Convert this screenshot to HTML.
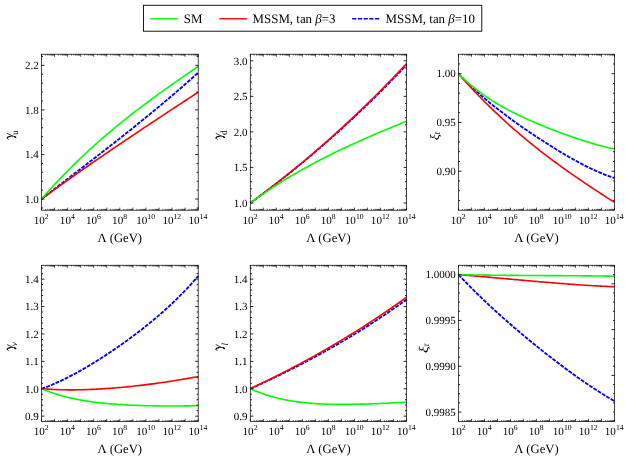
<!DOCTYPE html>
<html><head><meta charset="utf-8"><title>RG running</title>
<style>
html,body{margin:0;padding:0;background:#fff;}
svg{display:block;font-family:"Liberation Serif", serif;}
text{fill:#000;text-rendering:geometricPrecision;}
</style></head>
<body>
<div style="will-change:transform;width:625px;height:459px;overflow:hidden">
<svg width="625" height="459" viewBox="0 0 625 459">
<rect width="625" height="459" fill="#fff"/>
<g transform="translate(0,0)"><polyline points="41.50,199.06 43.48,197.52 45.47,195.98 47.45,194.44 49.43,192.91 51.42,191.37 53.40,189.84 55.38,188.31 57.37,186.78 59.35,185.25 61.34,183.72 63.32,182.19 65.30,180.66 67.29,179.13 69.27,177.60 71.25,176.08 73.24,174.55 75.22,173.02 77.20,171.50 79.19,169.97 81.17,168.44 83.15,166.91 85.14,165.38 87.12,163.85 89.11,162.32 91.09,160.78 93.07,159.25 95.06,157.71 97.04,156.17 99.02,154.64 101.01,153.09 102.99,151.55 104.97,150.01 106.96,148.46 108.94,146.91 110.92,145.36 112.91,143.80 114.89,142.24 116.87,140.68 118.86,139.12 120.84,137.55 122.83,135.98 124.81,134.41 126.79,132.83 128.78,131.25 130.76,129.67 132.74,128.08 134.73,126.49 136.71,124.89 138.69,123.29 140.68,121.68 142.66,120.07 144.64,118.46 146.63,116.84 148.61,115.22 150.59,113.59 152.58,111.95 154.56,110.31 156.55,108.67 158.53,107.01 160.51,105.36 162.50,103.69 164.48,102.02 166.46,100.35 168.45,98.67 170.43,96.98 172.41,95.28 174.40,93.58 176.38,91.88 178.36,90.16 180.35,88.44 182.33,86.71 184.32,84.97 186.30,83.23 188.28,81.48 190.27,79.72 192.25,77.95 194.23,76.17 196.22,74.39 198.20,72.60" fill="none" stroke="#0000ff" stroke-width="1.85" stroke-dasharray="3.85 1.2"/>
<polyline points="41.50,199.06 43.48,197.61 45.47,196.16 47.45,194.71 49.43,193.27 51.42,191.83 53.40,190.40 55.38,188.97 57.37,187.54 59.35,186.11 61.34,184.69 63.32,183.27 65.30,181.86 67.29,180.45 69.27,179.04 71.25,177.64 73.24,176.23 75.22,174.83 77.20,173.44 79.19,172.05 81.17,170.66 83.15,169.27 85.14,167.88 87.12,166.50 89.11,165.12 91.09,163.75 93.07,162.37 95.06,161.00 97.04,159.63 99.02,158.27 101.01,156.90 102.99,155.54 104.97,154.18 106.96,152.83 108.94,151.47 110.92,150.12 112.91,148.77 114.89,147.42 116.87,146.08 118.86,144.73 120.84,143.39 122.83,142.05 124.81,140.72 126.79,139.38 128.78,138.05 130.76,136.72 132.74,135.39 134.73,134.06 136.71,132.73 138.69,131.41 140.68,130.08 142.66,128.76 144.64,127.44 146.63,126.12 148.61,124.80 150.59,123.49 152.58,122.17 154.56,120.86 156.55,119.55 158.53,118.24 160.51,116.93 162.50,115.62 164.48,114.31 166.46,113.00 168.45,111.70 170.43,110.39 172.41,109.09 174.40,107.79 176.38,106.48 178.36,105.18 180.35,103.88 182.33,102.58 184.32,101.28 186.30,99.98 188.28,98.68 190.27,97.39 192.25,96.09 194.23,94.79 196.22,93.50 198.20,92.20" fill="none" stroke="#ff0000" stroke-width="1.6"/>
<polyline points="41.50,199.06 43.48,196.79 45.47,194.55 47.45,192.33 49.43,190.12 51.42,187.94 53.40,185.78 55.38,183.64 57.37,181.53 59.35,179.43 61.34,177.35 63.32,175.29 65.30,173.25 67.29,171.23 69.27,169.22 71.25,167.24 73.24,165.27 75.22,163.33 77.20,161.39 79.19,159.48 81.17,157.59 83.15,155.71 85.14,153.84 87.12,152.00 89.11,150.17 91.09,148.35 93.07,146.55 95.06,144.77 97.04,143.00 99.02,141.25 101.01,139.51 102.99,137.78 104.97,136.07 106.96,134.37 108.94,132.69 110.92,131.02 112.91,129.36 114.89,127.71 116.87,126.08 118.86,124.46 120.84,122.85 122.83,121.25 124.81,119.66 126.79,118.08 128.78,116.52 130.76,114.96 132.74,113.42 134.73,111.88 136.71,110.36 138.69,108.84 140.68,107.33 142.66,105.84 144.64,104.35 146.63,102.87 148.61,101.39 150.59,99.93 152.58,98.47 154.56,97.02 156.55,95.58 158.53,94.14 160.51,92.71 162.50,91.28 164.48,89.87 166.46,88.45 168.45,87.05 170.43,85.64 172.41,84.25 174.40,82.85 176.38,81.46 178.36,80.08 180.35,78.70 182.33,77.32 184.32,75.95 186.30,74.58 188.28,73.21 190.27,71.84 192.25,70.48 194.23,69.12 196.22,67.76 198.20,66.40" fill="none" stroke="#00ff00" stroke-width="1.6"/>
<rect x="41.5" y="54.2" width="156.70" height="156.00" fill="none" stroke="#000" stroke-width="0.72"/>
<path d="M41.50 210.2 v-2.6 M41.50 54.2 v2.6 M45.43 210.2 v-1.3 M45.43 54.2 v1.3 M47.73 210.2 v-1.3 M47.73 54.2 v1.3 M49.36 210.2 v-1.3 M49.36 54.2 v1.3 M50.63 210.2 v-1.3 M50.63 54.2 v1.3 M51.66 210.2 v-1.3 M51.66 54.2 v1.3 M52.54 210.2 v-1.3 M52.54 54.2 v1.3 M53.29 210.2 v-1.3 M53.29 54.2 v1.3 M53.96 210.2 v-1.3 M53.96 54.2 v1.3 M54.56 210.2 v-2.6 M54.56 54.2 v2.6 M58.49 210.2 v-1.3 M58.49 54.2 v1.3 M60.79 210.2 v-1.3 M60.79 54.2 v1.3 M62.42 210.2 v-1.3 M62.42 54.2 v1.3 M63.69 210.2 v-1.3 M63.69 54.2 v1.3 M64.72 210.2 v-1.3 M64.72 54.2 v1.3 M65.59 210.2 v-1.3 M65.59 54.2 v1.3 M66.35 210.2 v-1.3 M66.35 54.2 v1.3 M67.02 210.2 v-1.3 M67.02 54.2 v1.3 M67.62 210.2 v-2.6 M67.62 54.2 v2.6 M71.55 210.2 v-1.3 M71.55 54.2 v1.3 M73.85 210.2 v-1.3 M73.85 54.2 v1.3 M75.48 210.2 v-1.3 M75.48 54.2 v1.3 M76.74 210.2 v-1.3 M76.74 54.2 v1.3 M77.78 210.2 v-1.3 M77.78 54.2 v1.3 M78.65 210.2 v-1.3 M78.65 54.2 v1.3 M79.41 210.2 v-1.3 M79.41 54.2 v1.3 M80.08 210.2 v-1.3 M80.08 54.2 v1.3 M80.67 210.2 v-2.6 M80.67 54.2 v2.6 M84.61 210.2 v-1.3 M84.61 54.2 v1.3 M86.91 210.2 v-1.3 M86.91 54.2 v1.3 M88.54 210.2 v-1.3 M88.54 54.2 v1.3 M89.80 210.2 v-1.3 M89.80 54.2 v1.3 M90.84 210.2 v-1.3 M90.84 54.2 v1.3 M91.71 210.2 v-1.3 M91.71 54.2 v1.3 M92.47 210.2 v-1.3 M92.47 54.2 v1.3 M93.14 210.2 v-1.3 M93.14 54.2 v1.3 M93.73 210.2 v-2.6 M93.73 54.2 v2.6 M97.66 210.2 v-1.3 M97.66 54.2 v1.3 M99.96 210.2 v-1.3 M99.96 54.2 v1.3 M101.60 210.2 v-1.3 M101.60 54.2 v1.3 M102.86 210.2 v-1.3 M102.86 54.2 v1.3 M103.89 210.2 v-1.3 M103.89 54.2 v1.3 M104.77 210.2 v-1.3 M104.77 54.2 v1.3 M105.53 210.2 v-1.3 M105.53 54.2 v1.3 M106.19 210.2 v-1.3 M106.19 54.2 v1.3 M106.79 210.2 v-2.6 M106.79 54.2 v2.6 M110.72 210.2 v-1.3 M110.72 54.2 v1.3 M113.02 210.2 v-1.3 M113.02 54.2 v1.3 M114.65 210.2 v-1.3 M114.65 54.2 v1.3 M115.92 210.2 v-1.3 M115.92 54.2 v1.3 M116.95 210.2 v-1.3 M116.95 54.2 v1.3 M117.83 210.2 v-1.3 M117.83 54.2 v1.3 M118.58 210.2 v-1.3 M118.58 54.2 v1.3 M119.25 210.2 v-1.3 M119.25 54.2 v1.3 M119.85 210.2 v-2.6 M119.85 54.2 v2.6 M123.78 210.2 v-1.3 M123.78 54.2 v1.3 M126.08 210.2 v-1.3 M126.08 54.2 v1.3 M127.71 210.2 v-1.3 M127.71 54.2 v1.3 M128.98 210.2 v-1.3 M128.98 54.2 v1.3 M130.01 210.2 v-1.3 M130.01 54.2 v1.3 M130.89 210.2 v-1.3 M130.89 54.2 v1.3 M131.64 210.2 v-1.3 M131.64 54.2 v1.3 M132.31 210.2 v-1.3 M132.31 54.2 v1.3 M132.91 210.2 v-2.6 M132.91 54.2 v2.6 M136.84 210.2 v-1.3 M136.84 54.2 v1.3 M139.14 210.2 v-1.3 M139.14 54.2 v1.3 M140.77 210.2 v-1.3 M140.77 54.2 v1.3 M142.04 210.2 v-1.3 M142.04 54.2 v1.3 M143.07 210.2 v-1.3 M143.07 54.2 v1.3 M143.94 210.2 v-1.3 M143.94 54.2 v1.3 M144.70 210.2 v-1.3 M144.70 54.2 v1.3 M145.37 210.2 v-1.3 M145.37 54.2 v1.3 M145.97 210.2 v-2.6 M145.97 54.2 v2.6 M149.90 210.2 v-1.3 M149.90 54.2 v1.3 M152.20 210.2 v-1.3 M152.20 54.2 v1.3 M153.83 210.2 v-1.3 M153.83 54.2 v1.3 M155.09 210.2 v-1.3 M155.09 54.2 v1.3 M156.13 210.2 v-1.3 M156.13 54.2 v1.3 M157.00 210.2 v-1.3 M157.00 54.2 v1.3 M157.76 210.2 v-1.3 M157.76 54.2 v1.3 M158.43 210.2 v-1.3 M158.43 54.2 v1.3 M159.02 210.2 v-2.6 M159.02 54.2 v2.6 M162.96 210.2 v-1.3 M162.96 54.2 v1.3 M165.26 210.2 v-1.3 M165.26 54.2 v1.3 M166.89 210.2 v-1.3 M166.89 54.2 v1.3 M168.15 210.2 v-1.3 M168.15 54.2 v1.3 M169.19 210.2 v-1.3 M169.19 54.2 v1.3 M170.06 210.2 v-1.3 M170.06 54.2 v1.3 M170.82 210.2 v-1.3 M170.82 54.2 v1.3 M171.49 210.2 v-1.3 M171.49 54.2 v1.3 M172.08 210.2 v-2.6 M172.08 54.2 v2.6 M176.01 210.2 v-1.3 M176.01 54.2 v1.3 M178.31 210.2 v-1.3 M178.31 54.2 v1.3 M179.95 210.2 v-1.3 M179.95 54.2 v1.3 M181.21 210.2 v-1.3 M181.21 54.2 v1.3 M182.24 210.2 v-1.3 M182.24 54.2 v1.3 M183.12 210.2 v-1.3 M183.12 54.2 v1.3 M183.88 210.2 v-1.3 M183.88 54.2 v1.3 M184.54 210.2 v-1.3 M184.54 54.2 v1.3 M185.14 210.2 v-2.6 M185.14 54.2 v2.6 M189.07 210.2 v-1.3 M189.07 54.2 v1.3 M191.37 210.2 v-1.3 M191.37 54.2 v1.3 M193.00 210.2 v-1.3 M193.00 54.2 v1.3 M194.27 210.2 v-1.3 M194.27 54.2 v1.3 M195.30 210.2 v-1.3 M195.30 54.2 v1.3 M196.18 210.2 v-1.3 M196.18 54.2 v1.3 M196.93 210.2 v-1.3 M196.93 54.2 v1.3 M197.60 210.2 v-1.3 M197.60 54.2 v1.3 M198.20 210.2 v-2.6 M198.20 54.2 v2.6" stroke="#000" stroke-width="0.65" fill="none"/>
<path d="M41.5 56.43 h1.6 M41.5 65.34 h3 M41.5 74.25 h1.6 M41.5 83.17 h1.6 M41.5 92.08 h1.6 M41.5 101.00 h1.6 M41.5 109.91 h3 M41.5 118.82 h1.6 M41.5 127.74 h1.6 M41.5 136.65 h1.6 M41.5 145.57 h1.6 M41.5 154.48 h3 M41.5 163.39 h1.6 M41.5 172.31 h1.6 M41.5 181.22 h1.6 M41.5 190.14 h1.6 M41.5 199.05 h3 M41.5 207.96 h1.6 M198.2 56.43 h-1.6 M198.2 65.34 h-3 M198.2 74.25 h-1.6 M198.2 83.17 h-1.6 M198.2 92.08 h-1.6 M198.2 101.00 h-1.6 M198.2 109.91 h-3 M198.2 118.82 h-1.6 M198.2 127.74 h-1.6 M198.2 136.65 h-1.6 M198.2 145.57 h-1.6 M198.2 154.48 h-3 M198.2 163.39 h-1.6 M198.2 172.31 h-1.6 M198.2 181.22 h-1.6 M198.2 190.14 h-1.6 M198.2 199.05 h-3 M198.2 207.96 h-1.6" stroke="#000" stroke-width="0.85" fill="none"/>
<text x="38.70" y="69.09" text-anchor="end" font-size="11.0">2.2</text>
<text x="38.70" y="113.66" text-anchor="end" font-size="11.0">1.8</text>
<text x="38.70" y="158.24" text-anchor="end" font-size="11.0">1.4</text>
<text x="38.70" y="202.81" text-anchor="end" font-size="11.0">1.0</text>
<text x="41.20" y="223.80" text-anchor="middle" font-size="11.1">10<tspan font-size="7.7" dy="-4.7">2</tspan></text>
<text x="67.32" y="223.80" text-anchor="middle" font-size="11.1">10<tspan font-size="7.7" dy="-4.7">4</tspan></text>
<text x="93.43" y="223.80" text-anchor="middle" font-size="11.1">10<tspan font-size="7.7" dy="-4.7">6</tspan></text>
<text x="119.55" y="223.80" text-anchor="middle" font-size="11.1">10<tspan font-size="7.7" dy="-4.7">8</tspan></text>
<text x="145.67" y="223.80" text-anchor="middle" font-size="11.1">10<tspan font-size="7.7" dy="-4.7">10</tspan></text>
<text x="171.78" y="223.80" text-anchor="middle" font-size="11.1">10<tspan font-size="7.7" dy="-4.7">12</tspan></text>
<text x="197.90" y="223.80" text-anchor="middle" font-size="11.1">10<tspan font-size="7.7" dy="-4.7">14</tspan></text>
<text x="119.85" y="241.80" text-anchor="middle" font-size="12.7">Λ (GeV)</text>
<g transform="translate(13.06,139.8) rotate(-90)"><g fill="none" stroke="#000" stroke-linecap="round"><path d="M0.3,-4.3 C0.5,-5.2 1.0,-5.9 1.7,-5.9" stroke-width="0.55"/><path d="M1.7,-5.85 C2.6,-5.8 3.15,-4.6 3.4,-3.0" stroke-width="1.1"/><path d="M3.4,-3.0 C3.6,-2 3.75,-1.2 3.75,-0.6 C3.6,0.6 3.3,1.4 2.9,2.0" stroke-width="0.8"/><path d="M3.15,1.5 L2.4,2.7" stroke-width="1.3"/><path d="M6.3,-5.6 C5.6,-4 4.6,-2 3.75,-0.6" stroke-width="0.75"/></g><text x="4.7" y="5.0" font-size="9.3">u</text></g></g>
<g transform="translate(0,0)"><polyline points="250.30,203.00 252.28,201.57 254.26,200.13 256.24,198.68 258.21,197.23 260.19,195.77 262.17,194.30 264.15,192.82 266.13,191.33 268.11,189.84 270.08,188.34 272.06,186.83 274.04,185.31 276.02,183.79 278.00,182.26 279.98,180.72 281.96,179.17 283.93,177.61 285.91,176.05 287.89,174.48 289.87,172.90 291.85,171.31 293.83,169.72 295.81,168.11 297.78,166.50 299.76,164.88 301.74,163.25 303.72,161.61 305.70,159.97 307.68,158.32 309.65,156.66 311.63,154.99 313.61,153.31 315.59,151.62 317.57,149.93 319.55,148.23 321.53,146.52 323.50,144.80 325.48,143.07 327.46,141.34 329.44,139.59 331.42,137.84 333.40,136.08 335.37,134.31 337.35,132.53 339.33,130.74 341.31,128.95 343.29,127.15 345.27,125.33 347.25,123.51 349.22,121.68 351.20,119.85 353.18,118.00 355.16,116.14 357.14,114.28 359.12,112.41 361.09,110.53 363.07,108.64 365.05,106.74 367.03,104.83 369.01,102.91 370.99,100.99 372.97,99.05 374.94,97.11 376.92,95.16 378.90,93.20 380.88,91.23 382.86,89.25 384.84,87.26 386.82,85.27 388.79,83.26 390.77,81.24 392.75,79.22 394.73,77.19 396.71,75.15 398.69,73.09 400.66,71.03 402.64,68.97 404.62,66.89 406.60,64.80" fill="none" stroke="#0000ff" stroke-width="1.85" stroke-dasharray="3.85 1.2"/>
<polyline points="250.30,203.00 252.28,201.55 254.26,200.09 256.24,198.63 258.21,197.16 260.19,195.68 262.17,194.19 264.15,192.70 266.13,191.20 268.11,189.69 270.08,188.18 272.06,186.65 274.04,185.12 276.02,183.59 278.00,182.04 279.98,180.49 281.96,178.93 283.93,177.36 285.91,175.78 287.89,174.20 289.87,172.60 291.85,171.00 293.83,169.40 295.81,167.78 297.78,166.16 299.76,164.53 301.74,162.89 303.72,161.24 305.70,159.58 307.68,157.92 309.65,156.25 311.63,154.57 313.61,152.88 315.59,151.18 317.57,149.47 319.55,147.76 321.53,146.04 323.50,144.31 325.48,142.57 327.46,140.82 329.44,139.07 331.42,137.30 333.40,135.53 335.37,133.75 337.35,131.96 339.33,130.16 341.31,128.35 343.29,126.54 345.27,124.71 347.25,122.88 349.22,121.04 351.20,119.18 353.18,117.32 355.16,115.45 357.14,113.58 359.12,111.69 361.09,109.79 363.07,107.89 365.05,105.97 367.03,104.05 369.01,102.12 370.99,100.17 372.97,98.22 374.94,96.26 376.92,94.29 378.90,92.31 380.88,90.32 382.86,88.32 384.84,86.32 386.82,84.30 388.79,82.27 390.77,80.24 392.75,78.19 394.73,76.14 396.71,74.07 398.69,72.00 400.66,69.91 402.64,67.82 404.62,65.71 406.60,63.60" fill="none" stroke="#ff0000" stroke-width="1.6"/>
<polyline points="250.30,203.00 252.28,201.56 254.26,200.13 256.24,198.72 258.21,197.32 260.19,195.94 262.17,194.57 264.15,193.22 266.13,191.87 268.11,190.55 270.08,189.23 272.06,187.93 274.04,186.65 276.02,185.37 278.00,184.11 279.98,182.86 281.96,181.62 283.93,180.40 285.91,179.19 287.89,177.99 289.87,176.80 291.85,175.62 293.83,174.45 295.81,173.30 297.78,172.15 299.76,171.02 301.74,169.90 303.72,168.79 305.70,167.69 307.68,166.59 309.65,165.51 311.63,164.44 313.61,163.38 315.59,162.33 317.57,161.28 319.55,160.25 321.53,159.23 323.50,158.21 325.48,157.20 327.46,156.20 329.44,155.21 331.42,154.23 333.40,153.26 335.37,152.29 337.35,151.33 339.33,150.38 341.31,149.43 343.29,148.50 345.27,147.56 347.25,146.64 349.22,145.72 351.20,144.81 353.18,143.91 355.16,143.01 357.14,142.12 359.12,141.23 361.09,140.35 363.07,139.47 365.05,138.60 367.03,137.73 369.01,136.87 370.99,136.01 372.97,135.16 374.94,134.31 376.92,133.47 378.90,132.63 380.88,131.80 382.86,130.96 384.84,130.13 386.82,129.31 388.79,128.49 390.77,127.67 392.75,126.85 394.73,126.04 396.71,125.22 398.69,124.41 400.66,123.61 402.64,122.80 404.62,122.00 406.60,121.20" fill="none" stroke="#00ff00" stroke-width="1.6"/>
<rect x="250.3" y="54.2" width="156.30" height="156.00" fill="none" stroke="#000" stroke-width="0.72"/>
<path d="M250.30 210.2 v-2.6 M250.30 54.2 v2.6 M254.22 210.2 v-1.3 M254.22 54.2 v1.3 M256.51 210.2 v-1.3 M256.51 54.2 v1.3 M258.14 210.2 v-1.3 M258.14 54.2 v1.3 M259.40 210.2 v-1.3 M259.40 54.2 v1.3 M260.44 210.2 v-1.3 M260.44 54.2 v1.3 M261.31 210.2 v-1.3 M261.31 54.2 v1.3 M262.06 210.2 v-1.3 M262.06 54.2 v1.3 M262.73 210.2 v-1.3 M262.73 54.2 v1.3 M263.32 210.2 v-2.6 M263.32 54.2 v2.6 M267.25 210.2 v-1.3 M267.25 54.2 v1.3 M269.54 210.2 v-1.3 M269.54 54.2 v1.3 M271.17 210.2 v-1.3 M271.17 54.2 v1.3 M272.43 210.2 v-1.3 M272.43 54.2 v1.3 M273.46 210.2 v-1.3 M273.46 54.2 v1.3 M274.33 210.2 v-1.3 M274.33 54.2 v1.3 M275.09 210.2 v-1.3 M275.09 54.2 v1.3 M275.75 210.2 v-1.3 M275.75 54.2 v1.3 M276.35 210.2 v-2.6 M276.35 54.2 v2.6 M280.27 210.2 v-1.3 M280.27 54.2 v1.3 M282.56 210.2 v-1.3 M282.56 54.2 v1.3 M284.19 210.2 v-1.3 M284.19 54.2 v1.3 M285.45 210.2 v-1.3 M285.45 54.2 v1.3 M286.49 210.2 v-1.3 M286.49 54.2 v1.3 M287.36 210.2 v-1.3 M287.36 54.2 v1.3 M288.11 210.2 v-1.3 M288.11 54.2 v1.3 M288.78 210.2 v-1.3 M288.78 54.2 v1.3 M289.38 210.2 v-2.6 M289.38 54.2 v2.6 M293.30 210.2 v-1.3 M293.30 54.2 v1.3 M295.59 210.2 v-1.3 M295.59 54.2 v1.3 M297.22 210.2 v-1.3 M297.22 54.2 v1.3 M298.48 210.2 v-1.3 M298.48 54.2 v1.3 M299.51 210.2 v-1.3 M299.51 54.2 v1.3 M300.38 210.2 v-1.3 M300.38 54.2 v1.3 M301.14 210.2 v-1.3 M301.14 54.2 v1.3 M301.80 210.2 v-1.3 M301.80 54.2 v1.3 M302.40 210.2 v-2.6 M302.40 54.2 v2.6 M306.32 210.2 v-1.3 M306.32 54.2 v1.3 M308.61 210.2 v-1.3 M308.61 54.2 v1.3 M310.24 210.2 v-1.3 M310.24 54.2 v1.3 M311.50 210.2 v-1.3 M311.50 54.2 v1.3 M312.54 210.2 v-1.3 M312.54 54.2 v1.3 M313.41 210.2 v-1.3 M313.41 54.2 v1.3 M314.16 210.2 v-1.3 M314.16 54.2 v1.3 M314.83 210.2 v-1.3 M314.83 54.2 v1.3 M315.43 210.2 v-2.6 M315.43 54.2 v2.6 M319.35 210.2 v-1.3 M319.35 54.2 v1.3 M321.64 210.2 v-1.3 M321.64 54.2 v1.3 M323.27 210.2 v-1.3 M323.27 54.2 v1.3 M324.53 210.2 v-1.3 M324.53 54.2 v1.3 M325.56 210.2 v-1.3 M325.56 54.2 v1.3 M326.43 210.2 v-1.3 M326.43 54.2 v1.3 M327.19 210.2 v-1.3 M327.19 54.2 v1.3 M327.85 210.2 v-1.3 M327.85 54.2 v1.3 M328.45 210.2 v-2.6 M328.45 54.2 v2.6 M332.37 210.2 v-1.3 M332.37 54.2 v1.3 M334.66 210.2 v-1.3 M334.66 54.2 v1.3 M336.29 210.2 v-1.3 M336.29 54.2 v1.3 M337.55 210.2 v-1.3 M337.55 54.2 v1.3 M338.59 210.2 v-1.3 M338.59 54.2 v1.3 M339.46 210.2 v-1.3 M339.46 54.2 v1.3 M340.21 210.2 v-1.3 M340.21 54.2 v1.3 M340.88 210.2 v-1.3 M340.88 54.2 v1.3 M341.48 210.2 v-2.6 M341.48 54.2 v2.6 M345.40 210.2 v-1.3 M345.40 54.2 v1.3 M347.69 210.2 v-1.3 M347.69 54.2 v1.3 M349.32 210.2 v-1.3 M349.32 54.2 v1.3 M350.58 210.2 v-1.3 M350.58 54.2 v1.3 M351.61 210.2 v-1.3 M351.61 54.2 v1.3 M352.48 210.2 v-1.3 M352.48 54.2 v1.3 M353.24 210.2 v-1.3 M353.24 54.2 v1.3 M353.90 210.2 v-1.3 M353.90 54.2 v1.3 M354.50 210.2 v-2.6 M354.50 54.2 v2.6 M358.42 210.2 v-1.3 M358.42 54.2 v1.3 M360.71 210.2 v-1.3 M360.71 54.2 v1.3 M362.34 210.2 v-1.3 M362.34 54.2 v1.3 M363.60 210.2 v-1.3 M363.60 54.2 v1.3 M364.64 210.2 v-1.3 M364.64 54.2 v1.3 M365.51 210.2 v-1.3 M365.51 54.2 v1.3 M366.26 210.2 v-1.3 M366.26 54.2 v1.3 M366.93 210.2 v-1.3 M366.93 54.2 v1.3 M367.53 210.2 v-2.6 M367.53 54.2 v2.6 M371.45 210.2 v-1.3 M371.45 54.2 v1.3 M373.74 210.2 v-1.3 M373.74 54.2 v1.3 M375.37 210.2 v-1.3 M375.37 54.2 v1.3 M376.63 210.2 v-1.3 M376.63 54.2 v1.3 M377.66 210.2 v-1.3 M377.66 54.2 v1.3 M378.53 210.2 v-1.3 M378.53 54.2 v1.3 M379.29 210.2 v-1.3 M379.29 54.2 v1.3 M379.95 210.2 v-1.3 M379.95 54.2 v1.3 M380.55 210.2 v-2.6 M380.55 54.2 v2.6 M384.47 210.2 v-1.3 M384.47 54.2 v1.3 M386.76 210.2 v-1.3 M386.76 54.2 v1.3 M388.39 210.2 v-1.3 M388.39 54.2 v1.3 M389.65 210.2 v-1.3 M389.65 54.2 v1.3 M390.69 210.2 v-1.3 M390.69 54.2 v1.3 M391.56 210.2 v-1.3 M391.56 54.2 v1.3 M392.31 210.2 v-1.3 M392.31 54.2 v1.3 M392.98 210.2 v-1.3 M392.98 54.2 v1.3 M393.58 210.2 v-2.6 M393.58 54.2 v2.6 M397.50 210.2 v-1.3 M397.50 54.2 v1.3 M399.79 210.2 v-1.3 M399.79 54.2 v1.3 M401.42 210.2 v-1.3 M401.42 54.2 v1.3 M402.68 210.2 v-1.3 M402.68 54.2 v1.3 M403.71 210.2 v-1.3 M403.71 54.2 v1.3 M404.58 210.2 v-1.3 M404.58 54.2 v1.3 M405.34 210.2 v-1.3 M405.34 54.2 v1.3 M406.00 210.2 v-1.3 M406.00 54.2 v1.3 M406.60 210.2 v-2.6 M406.60 54.2 v2.6" stroke="#000" stroke-width="0.65" fill="none"/>
<path d="M250.3 60.80 h3 M250.3 67.91 h1.6 M250.3 75.02 h1.6 M250.3 82.13 h1.6 M250.3 89.24 h1.6 M250.3 96.35 h3 M250.3 103.46 h1.6 M250.3 110.57 h1.6 M250.3 117.68 h1.6 M250.3 124.79 h1.6 M250.3 131.90 h3 M250.3 139.01 h1.6 M250.3 146.12 h1.6 M250.3 153.23 h1.6 M250.3 160.34 h1.6 M250.3 167.45 h3 M250.3 174.56 h1.6 M250.3 181.67 h1.6 M250.3 188.78 h1.6 M250.3 195.89 h1.6 M250.3 203.00 h3 M406.6 60.80 h-3 M406.6 67.91 h-1.6 M406.6 75.02 h-1.6 M406.6 82.13 h-1.6 M406.6 89.24 h-1.6 M406.6 96.35 h-3 M406.6 103.46 h-1.6 M406.6 110.57 h-1.6 M406.6 117.68 h-1.6 M406.6 124.79 h-1.6 M406.6 131.90 h-3 M406.6 139.01 h-1.6 M406.6 146.12 h-1.6 M406.6 153.23 h-1.6 M406.6 160.34 h-1.6 M406.6 167.45 h-3 M406.6 174.56 h-1.6 M406.6 181.67 h-1.6 M406.6 188.78 h-1.6 M406.6 195.89 h-1.6 M406.6 203.00 h-3" stroke="#000" stroke-width="0.85" fill="none"/>
<text x="247.50" y="64.55" text-anchor="end" font-size="11.0">3.0</text>
<text x="247.50" y="100.10" text-anchor="end" font-size="11.0">2.5</text>
<text x="247.50" y="135.65" text-anchor="end" font-size="11.0">2.0</text>
<text x="247.50" y="171.20" text-anchor="end" font-size="11.0">1.5</text>
<text x="247.50" y="206.75" text-anchor="end" font-size="11.0">1.0</text>
<text x="250.00" y="223.80" text-anchor="middle" font-size="11.1">10<tspan font-size="7.7" dy="-4.7">2</tspan></text>
<text x="276.05" y="223.80" text-anchor="middle" font-size="11.1">10<tspan font-size="7.7" dy="-4.7">4</tspan></text>
<text x="302.10" y="223.80" text-anchor="middle" font-size="11.1">10<tspan font-size="7.7" dy="-4.7">6</tspan></text>
<text x="328.15" y="223.80" text-anchor="middle" font-size="11.1">10<tspan font-size="7.7" dy="-4.7">8</tspan></text>
<text x="354.20" y="223.80" text-anchor="middle" font-size="11.1">10<tspan font-size="7.7" dy="-4.7">10</tspan></text>
<text x="380.25" y="223.80" text-anchor="middle" font-size="11.1">10<tspan font-size="7.7" dy="-4.7">12</tspan></text>
<text x="406.30" y="223.80" text-anchor="middle" font-size="11.1">10<tspan font-size="7.7" dy="-4.7">14</tspan></text>
<text x="328.45" y="241.80" text-anchor="middle" font-size="12.7">Λ (GeV)</text>
<g transform="translate(221.8,139.8) rotate(-90)"><g fill="none" stroke="#000" stroke-linecap="round"><path d="M0.3,-4.3 C0.5,-5.2 1.0,-5.9 1.7,-5.9" stroke-width="0.55"/><path d="M1.7,-5.85 C2.6,-5.8 3.15,-4.6 3.4,-3.0" stroke-width="1.1"/><path d="M3.4,-3.0 C3.6,-2 3.75,-1.2 3.75,-0.6 C3.6,0.6 3.3,1.4 2.9,2.0" stroke-width="0.8"/><path d="M3.15,1.5 L2.4,2.7" stroke-width="1.3"/><path d="M6.3,-5.6 C5.6,-4 4.6,-2 3.75,-0.6" stroke-width="0.75"/></g><text x="4.7" y="5.2" font-size="9.3">d</text></g></g>
<g transform="translate(0,0)"><polyline points="458.50,73.81 460.47,75.87 462.45,77.89 464.42,79.88 466.40,81.84 468.37,83.76 470.35,85.64 472.32,87.50 474.30,89.32 476.27,91.12 478.25,92.89 480.22,94.63 482.20,96.35 484.17,98.05 486.15,99.72 488.12,101.36 490.09,102.99 492.07,104.60 494.04,106.18 496.02,107.75 497.99,109.30 499.97,110.83 501.94,112.35 503.92,113.85 505.89,115.34 507.87,116.81 509.84,118.26 511.82,119.71 513.79,121.14 515.77,122.56 517.74,123.97 519.72,125.36 521.69,126.75 523.66,128.12 525.64,129.48 527.61,130.84 529.59,132.18 531.56,133.51 533.54,134.84 535.51,136.15 537.49,137.46 539.46,138.75 541.44,140.04 543.41,141.32 545.39,142.58 547.36,143.84 549.34,145.09 551.31,146.33 553.28,147.56 555.26,148.78 557.23,149.99 559.21,151.18 561.18,152.37 563.16,153.55 565.13,154.71 567.11,155.86 569.08,157.00 571.06,158.12 573.03,159.24 575.01,160.33 576.98,161.41 578.96,162.48 580.93,163.53 582.91,164.56 584.88,165.57 586.85,166.57 588.83,167.55 590.80,168.50 592.78,169.43 594.75,170.35 596.73,171.23 598.70,172.10 600.68,172.94 602.65,173.75 604.63,174.53 606.60,175.29 608.58,176.01 610.55,176.71 612.53,177.37 614.50,178.00" fill="none" stroke="#0000ff" stroke-width="1.85" stroke-dasharray="3.85 1.2"/>
<polyline points="458.50,73.80 460.47,76.04 462.45,78.25 464.42,80.44 466.40,82.61 468.37,84.77 470.35,86.90 472.32,89.01 474.30,91.10 476.27,93.17 478.25,95.22 480.22,97.25 482.20,99.26 484.17,101.26 486.15,103.23 488.12,105.19 490.09,107.13 492.07,109.05 494.04,110.95 496.02,112.83 497.99,114.70 499.97,116.55 501.94,118.38 503.92,120.20 505.89,122.00 507.87,123.78 509.84,125.55 511.82,127.30 513.79,129.03 515.77,130.75 517.74,132.46 519.72,134.14 521.69,135.82 523.66,137.48 525.64,139.12 527.61,140.76 529.59,142.37 531.56,143.98 533.54,145.57 535.51,147.14 537.49,148.71 539.46,150.26 541.44,151.80 543.41,153.33 545.39,154.84 547.36,156.35 549.34,157.84 551.31,159.32 553.28,160.79 555.26,162.25 557.23,163.70 559.21,165.14 561.18,166.57 563.16,167.99 565.13,169.40 567.11,170.80 569.08,172.19 571.06,173.57 573.03,174.95 575.01,176.31 576.98,177.67 578.96,179.03 580.93,180.37 582.91,181.71 584.88,183.04 586.85,184.37 588.83,185.68 590.80,187.00 592.78,188.30 594.75,189.61 596.73,190.90 598.70,192.20 600.68,193.48 602.65,194.77 604.63,196.05 606.60,197.32 608.58,198.60 610.55,199.87 612.53,201.13 614.50,202.40" fill="none" stroke="#ff0000" stroke-width="1.6"/>
<polyline points="458.50,73.80 460.47,75.75 462.45,77.64 464.42,79.47 466.40,81.26 468.37,83.00 470.35,84.69 472.32,86.33 474.30,87.93 476.27,89.48 478.25,91.00 480.22,92.47 482.20,93.91 484.17,95.31 486.15,96.67 488.12,98.00 490.09,99.30 492.07,100.57 494.04,101.80 496.02,103.01 497.99,104.19 499.97,105.35 501.94,106.48 503.92,107.59 505.89,108.67 507.87,109.73 509.84,110.77 511.82,111.79 513.79,112.80 515.77,113.78 517.74,114.75 519.72,115.70 521.69,116.64 523.66,117.56 525.64,118.46 527.61,119.36 529.59,120.24 531.56,121.11 533.54,121.96 535.51,122.81 537.49,123.64 539.46,124.47 541.44,125.28 543.41,126.09 545.39,126.89 547.36,127.67 549.34,128.45 551.31,129.23 553.28,129.99 555.26,130.74 557.23,131.49 559.21,132.23 561.18,132.96 563.16,133.69 565.13,134.41 567.11,135.12 569.08,135.82 571.06,136.51 573.03,137.20 575.01,137.87 576.98,138.54 578.96,139.20 580.93,139.85 582.91,140.49 584.88,141.12 586.85,141.74 588.83,142.35 590.80,142.95 592.78,143.54 594.75,144.11 596.73,144.67 598.70,145.22 600.68,145.75 602.65,146.26 604.63,146.76 606.60,147.25 608.58,147.71 610.55,148.16 612.53,148.59 614.50,149.00" fill="none" stroke="#00ff00" stroke-width="1.6"/>
<rect x="458.5" y="54.2" width="156.00" height="156.00" fill="none" stroke="#000" stroke-width="0.72"/>
<path d="M458.50 210.2 v-2.6 M458.50 54.2 v2.6 M462.41 210.2 v-1.3 M462.41 54.2 v1.3 M464.70 210.2 v-1.3 M464.70 54.2 v1.3 M466.33 210.2 v-1.3 M466.33 54.2 v1.3 M467.59 210.2 v-1.3 M467.59 54.2 v1.3 M468.62 210.2 v-1.3 M468.62 54.2 v1.3 M469.49 210.2 v-1.3 M469.49 54.2 v1.3 M470.24 210.2 v-1.3 M470.24 54.2 v1.3 M470.91 210.2 v-1.3 M470.91 54.2 v1.3 M471.50 210.2 v-2.6 M471.50 54.2 v2.6 M475.41 210.2 v-1.3 M475.41 54.2 v1.3 M477.70 210.2 v-1.3 M477.70 54.2 v1.3 M479.33 210.2 v-1.3 M479.33 54.2 v1.3 M480.59 210.2 v-1.3 M480.59 54.2 v1.3 M481.62 210.2 v-1.3 M481.62 54.2 v1.3 M482.49 210.2 v-1.3 M482.49 54.2 v1.3 M483.24 210.2 v-1.3 M483.24 54.2 v1.3 M483.91 210.2 v-1.3 M483.91 54.2 v1.3 M484.50 210.2 v-2.6 M484.50 54.2 v2.6 M488.41 210.2 v-1.3 M488.41 54.2 v1.3 M490.70 210.2 v-1.3 M490.70 54.2 v1.3 M492.33 210.2 v-1.3 M492.33 54.2 v1.3 M493.59 210.2 v-1.3 M493.59 54.2 v1.3 M494.62 210.2 v-1.3 M494.62 54.2 v1.3 M495.49 210.2 v-1.3 M495.49 54.2 v1.3 M496.24 210.2 v-1.3 M496.24 54.2 v1.3 M496.91 210.2 v-1.3 M496.91 54.2 v1.3 M497.50 210.2 v-2.6 M497.50 54.2 v2.6 M501.41 210.2 v-1.3 M501.41 54.2 v1.3 M503.70 210.2 v-1.3 M503.70 54.2 v1.3 M505.33 210.2 v-1.3 M505.33 54.2 v1.3 M506.59 210.2 v-1.3 M506.59 54.2 v1.3 M507.62 210.2 v-1.3 M507.62 54.2 v1.3 M508.49 210.2 v-1.3 M508.49 54.2 v1.3 M509.24 210.2 v-1.3 M509.24 54.2 v1.3 M509.91 210.2 v-1.3 M509.91 54.2 v1.3 M510.50 210.2 v-2.6 M510.50 54.2 v2.6 M514.41 210.2 v-1.3 M514.41 54.2 v1.3 M516.70 210.2 v-1.3 M516.70 54.2 v1.3 M518.33 210.2 v-1.3 M518.33 54.2 v1.3 M519.59 210.2 v-1.3 M519.59 54.2 v1.3 M520.62 210.2 v-1.3 M520.62 54.2 v1.3 M521.49 210.2 v-1.3 M521.49 54.2 v1.3 M522.24 210.2 v-1.3 M522.24 54.2 v1.3 M522.91 210.2 v-1.3 M522.91 54.2 v1.3 M523.50 210.2 v-2.6 M523.50 54.2 v2.6 M527.41 210.2 v-1.3 M527.41 54.2 v1.3 M529.70 210.2 v-1.3 M529.70 54.2 v1.3 M531.33 210.2 v-1.3 M531.33 54.2 v1.3 M532.59 210.2 v-1.3 M532.59 54.2 v1.3 M533.62 210.2 v-1.3 M533.62 54.2 v1.3 M534.49 210.2 v-1.3 M534.49 54.2 v1.3 M535.24 210.2 v-1.3 M535.24 54.2 v1.3 M535.91 210.2 v-1.3 M535.91 54.2 v1.3 M536.50 210.2 v-2.6 M536.50 54.2 v2.6 M540.41 210.2 v-1.3 M540.41 54.2 v1.3 M542.70 210.2 v-1.3 M542.70 54.2 v1.3 M544.33 210.2 v-1.3 M544.33 54.2 v1.3 M545.59 210.2 v-1.3 M545.59 54.2 v1.3 M546.62 210.2 v-1.3 M546.62 54.2 v1.3 M547.49 210.2 v-1.3 M547.49 54.2 v1.3 M548.24 210.2 v-1.3 M548.24 54.2 v1.3 M548.91 210.2 v-1.3 M548.91 54.2 v1.3 M549.50 210.2 v-2.6 M549.50 54.2 v2.6 M553.41 210.2 v-1.3 M553.41 54.2 v1.3 M555.70 210.2 v-1.3 M555.70 54.2 v1.3 M557.33 210.2 v-1.3 M557.33 54.2 v1.3 M558.59 210.2 v-1.3 M558.59 54.2 v1.3 M559.62 210.2 v-1.3 M559.62 54.2 v1.3 M560.49 210.2 v-1.3 M560.49 54.2 v1.3 M561.24 210.2 v-1.3 M561.24 54.2 v1.3 M561.91 210.2 v-1.3 M561.91 54.2 v1.3 M562.50 210.2 v-2.6 M562.50 54.2 v2.6 M566.41 210.2 v-1.3 M566.41 54.2 v1.3 M568.70 210.2 v-1.3 M568.70 54.2 v1.3 M570.33 210.2 v-1.3 M570.33 54.2 v1.3 M571.59 210.2 v-1.3 M571.59 54.2 v1.3 M572.62 210.2 v-1.3 M572.62 54.2 v1.3 M573.49 210.2 v-1.3 M573.49 54.2 v1.3 M574.24 210.2 v-1.3 M574.24 54.2 v1.3 M574.91 210.2 v-1.3 M574.91 54.2 v1.3 M575.50 210.2 v-2.6 M575.50 54.2 v2.6 M579.41 210.2 v-1.3 M579.41 54.2 v1.3 M581.70 210.2 v-1.3 M581.70 54.2 v1.3 M583.33 210.2 v-1.3 M583.33 54.2 v1.3 M584.59 210.2 v-1.3 M584.59 54.2 v1.3 M585.62 210.2 v-1.3 M585.62 54.2 v1.3 M586.49 210.2 v-1.3 M586.49 54.2 v1.3 M587.24 210.2 v-1.3 M587.24 54.2 v1.3 M587.91 210.2 v-1.3 M587.91 54.2 v1.3 M588.50 210.2 v-2.6 M588.50 54.2 v2.6 M592.41 210.2 v-1.3 M592.41 54.2 v1.3 M594.70 210.2 v-1.3 M594.70 54.2 v1.3 M596.33 210.2 v-1.3 M596.33 54.2 v1.3 M597.59 210.2 v-1.3 M597.59 54.2 v1.3 M598.62 210.2 v-1.3 M598.62 54.2 v1.3 M599.49 210.2 v-1.3 M599.49 54.2 v1.3 M600.24 210.2 v-1.3 M600.24 54.2 v1.3 M600.91 210.2 v-1.3 M600.91 54.2 v1.3 M601.50 210.2 v-2.6 M601.50 54.2 v2.6 M605.41 210.2 v-1.3 M605.41 54.2 v1.3 M607.70 210.2 v-1.3 M607.70 54.2 v1.3 M609.33 210.2 v-1.3 M609.33 54.2 v1.3 M610.59 210.2 v-1.3 M610.59 54.2 v1.3 M611.62 210.2 v-1.3 M611.62 54.2 v1.3 M612.49 210.2 v-1.3 M612.49 54.2 v1.3 M613.24 210.2 v-1.3 M613.24 54.2 v1.3 M613.91 210.2 v-1.3 M613.91 54.2 v1.3 M614.50 210.2 v-2.6 M614.50 54.2 v2.6" stroke="#000" stroke-width="0.65" fill="none"/>
<path d="M458.5 63.95 h1.6 M458.5 73.70 h3 M458.5 83.45 h1.6 M458.5 93.20 h1.6 M458.5 102.95 h1.6 M458.5 112.70 h1.6 M458.5 122.45 h3 M458.5 132.20 h1.6 M458.5 141.95 h1.6 M458.5 151.70 h1.6 M458.5 161.45 h1.6 M458.5 171.20 h3 M458.5 180.95 h1.6 M458.5 190.70 h1.6 M458.5 200.45 h1.6 M614.5 63.95 h-1.6 M614.5 73.70 h-3 M614.5 83.45 h-1.6 M614.5 93.20 h-1.6 M614.5 102.95 h-1.6 M614.5 112.70 h-1.6 M614.5 122.45 h-3 M614.5 132.20 h-1.6 M614.5 141.95 h-1.6 M614.5 151.70 h-1.6 M614.5 161.45 h-1.6 M614.5 171.20 h-3 M614.5 180.95 h-1.6 M614.5 190.70 h-1.6 M614.5 200.45 h-1.6" stroke="#000" stroke-width="0.85" fill="none"/>
<text x="455.70" y="77.45" text-anchor="end" font-size="11.0">1.00</text>
<text x="455.70" y="126.20" text-anchor="end" font-size="11.0">0.95</text>
<text x="455.70" y="174.95" text-anchor="end" font-size="11.0">0.90</text>
<text x="458.20" y="223.80" text-anchor="middle" font-size="11.1">10<tspan font-size="7.7" dy="-4.7">2</tspan></text>
<text x="484.20" y="223.80" text-anchor="middle" font-size="11.1">10<tspan font-size="7.7" dy="-4.7">4</tspan></text>
<text x="510.20" y="223.80" text-anchor="middle" font-size="11.1">10<tspan font-size="7.7" dy="-4.7">6</tspan></text>
<text x="536.20" y="223.80" text-anchor="middle" font-size="11.1">10<tspan font-size="7.7" dy="-4.7">8</tspan></text>
<text x="562.20" y="223.80" text-anchor="middle" font-size="11.1">10<tspan font-size="7.7" dy="-4.7">10</tspan></text>
<text x="588.20" y="223.80" text-anchor="middle" font-size="11.1">10<tspan font-size="7.7" dy="-4.7">12</tspan></text>
<text x="614.20" y="223.80" text-anchor="middle" font-size="11.1">10<tspan font-size="7.7" dy="-4.7">14</tspan></text>
<text x="536.50" y="241.80" text-anchor="middle" font-size="12.7">Λ (GeV)</text>
<g transform="translate(438.65,140.3) rotate(-90)"><text transform="scale(1.13,1)" font-size="12.8" font-style="italic">ξ</text><text x="5.8" y="1.35" font-size="9.3" font-style="italic">t</text></g></g>
<g transform="translate(0,0.25)"><polyline points="41.50,388.50 43.48,387.81 45.47,387.09 47.45,386.34 49.43,385.56 51.42,384.75 53.40,383.92 55.38,383.06 57.37,382.18 59.35,381.28 61.34,380.35 63.32,379.40 65.30,378.43 67.29,377.44 69.27,376.43 71.25,375.40 73.24,374.35 75.22,373.28 77.20,372.20 79.19,371.10 81.17,369.98 83.15,368.85 85.14,367.70 87.12,366.53 89.11,365.35 91.09,364.16 93.07,362.95 95.06,361.73 97.04,360.50 99.02,359.25 101.01,357.99 102.99,356.71 104.97,355.42 106.96,354.12 108.94,352.81 110.92,351.48 112.91,350.14 114.89,348.79 116.87,347.43 118.86,346.05 120.84,344.66 122.83,343.26 124.81,341.84 126.79,340.41 128.78,338.97 130.76,337.51 132.74,336.04 134.73,334.55 136.71,333.05 138.69,331.53 140.68,330.00 142.66,328.45 144.64,326.89 146.63,325.30 148.61,323.70 150.59,322.08 152.58,320.45 154.56,318.79 156.55,317.11 158.53,315.42 160.51,313.70 162.50,311.96 164.48,310.19 166.46,308.41 168.45,306.59 170.43,304.76 172.41,302.89 174.40,301.00 176.38,299.08 178.36,297.13 180.35,295.15 182.33,293.14 184.32,291.10 186.30,289.03 188.28,286.91 190.27,284.77 192.25,282.59 194.23,280.36 196.22,278.10 198.20,275.80" fill="none" stroke="#0000ff" stroke-width="1.85" stroke-dasharray="3.85 1.2"/>
<polyline points="41.50,388.50 43.48,388.65 45.47,388.79 47.45,388.91 49.43,389.03 51.42,389.13 53.40,389.23 55.38,389.31 57.37,389.38 59.35,389.44 61.34,389.49 63.32,389.53 65.30,389.57 67.29,389.59 69.27,389.60 71.25,389.60 73.24,389.60 75.22,389.58 77.20,389.56 79.19,389.53 81.17,389.49 83.15,389.44 85.14,389.39 87.12,389.32 89.11,389.25 91.09,389.17 93.07,389.09 95.06,388.99 97.04,388.89 99.02,388.79 101.01,388.67 102.99,388.55 104.97,388.42 106.96,388.29 108.94,388.15 110.92,388.00 112.91,387.85 114.89,387.69 116.87,387.52 118.86,387.35 120.84,387.18 122.83,387.00 124.81,386.81 126.79,386.61 128.78,386.42 130.76,386.21 132.74,386.00 134.73,385.79 136.71,385.57 138.69,385.34 140.68,385.11 142.66,384.88 144.64,384.64 146.63,384.39 148.61,384.14 150.59,383.88 152.58,383.62 154.56,383.36 156.55,383.09 158.53,382.81 160.51,382.54 162.50,382.25 164.48,381.96 166.46,381.67 168.45,381.37 170.43,381.07 172.41,380.76 174.40,380.45 176.38,380.13 178.36,379.80 180.35,379.48 182.33,379.14 184.32,378.81 186.30,378.46 188.28,378.12 190.27,377.76 192.25,377.41 194.23,377.04 196.22,376.67 198.20,376.30" fill="none" stroke="#ff0000" stroke-width="1.6"/>
<polyline points="41.50,388.50 43.48,389.32 45.47,390.11 47.45,390.87 49.43,391.60 51.42,392.30 53.40,392.97 55.38,393.61 57.37,394.23 59.35,394.82 61.34,395.39 63.32,395.94 65.30,396.46 67.29,396.96 69.27,397.43 71.25,397.89 73.24,398.32 75.22,398.74 77.20,399.14 79.19,399.52 81.17,399.88 83.15,400.22 85.14,400.55 87.12,400.86 89.11,401.16 91.09,401.45 93.07,401.72 95.06,401.97 97.04,402.22 99.02,402.45 101.01,402.67 102.99,402.88 104.97,403.08 106.96,403.27 108.94,403.44 110.92,403.61 112.91,403.77 114.89,403.92 116.87,404.07 118.86,404.20 120.84,404.33 122.83,404.45 124.81,404.56 126.79,404.67 128.78,404.77 130.76,404.86 132.74,404.95 134.73,405.04 136.71,405.11 138.69,405.19 140.68,405.25 142.66,405.32 144.64,405.37 146.63,405.43 148.61,405.48 150.59,405.52 152.58,405.56 154.56,405.60 156.55,405.63 158.53,405.66 160.51,405.68 162.50,405.70 164.48,405.72 166.46,405.73 168.45,405.74 170.43,405.74 172.41,405.74 174.40,405.74 176.38,405.73 178.36,405.72 180.35,405.70 182.33,405.68 184.32,405.65 186.30,405.61 188.28,405.58 190.27,405.53 192.25,405.48 194.23,405.43 196.22,405.37 198.20,405.30" fill="none" stroke="#00ff00" stroke-width="1.6"/>
<rect x="41.5" y="265.0" width="156.70" height="156.20" fill="none" stroke="#000" stroke-width="0.72"/>
<path d="M41.50 421.2 v-2.6 M41.50 265.0 v2.6 M45.43 421.2 v-1.3 M45.43 265.0 v1.3 M47.73 421.2 v-1.3 M47.73 265.0 v1.3 M49.36 421.2 v-1.3 M49.36 265.0 v1.3 M50.63 421.2 v-1.3 M50.63 265.0 v1.3 M51.66 421.2 v-1.3 M51.66 265.0 v1.3 M52.54 421.2 v-1.3 M52.54 265.0 v1.3 M53.29 421.2 v-1.3 M53.29 265.0 v1.3 M53.96 421.2 v-1.3 M53.96 265.0 v1.3 M54.56 421.2 v-2.6 M54.56 265.0 v2.6 M58.49 421.2 v-1.3 M58.49 265.0 v1.3 M60.79 421.2 v-1.3 M60.79 265.0 v1.3 M62.42 421.2 v-1.3 M62.42 265.0 v1.3 M63.69 421.2 v-1.3 M63.69 265.0 v1.3 M64.72 421.2 v-1.3 M64.72 265.0 v1.3 M65.59 421.2 v-1.3 M65.59 265.0 v1.3 M66.35 421.2 v-1.3 M66.35 265.0 v1.3 M67.02 421.2 v-1.3 M67.02 265.0 v1.3 M67.62 421.2 v-2.6 M67.62 265.0 v2.6 M71.55 421.2 v-1.3 M71.55 265.0 v1.3 M73.85 421.2 v-1.3 M73.85 265.0 v1.3 M75.48 421.2 v-1.3 M75.48 265.0 v1.3 M76.74 421.2 v-1.3 M76.74 265.0 v1.3 M77.78 421.2 v-1.3 M77.78 265.0 v1.3 M78.65 421.2 v-1.3 M78.65 265.0 v1.3 M79.41 421.2 v-1.3 M79.41 265.0 v1.3 M80.08 421.2 v-1.3 M80.08 265.0 v1.3 M80.67 421.2 v-2.6 M80.67 265.0 v2.6 M84.61 421.2 v-1.3 M84.61 265.0 v1.3 M86.91 421.2 v-1.3 M86.91 265.0 v1.3 M88.54 421.2 v-1.3 M88.54 265.0 v1.3 M89.80 421.2 v-1.3 M89.80 265.0 v1.3 M90.84 421.2 v-1.3 M90.84 265.0 v1.3 M91.71 421.2 v-1.3 M91.71 265.0 v1.3 M92.47 421.2 v-1.3 M92.47 265.0 v1.3 M93.14 421.2 v-1.3 M93.14 265.0 v1.3 M93.73 421.2 v-2.6 M93.73 265.0 v2.6 M97.66 421.2 v-1.3 M97.66 265.0 v1.3 M99.96 421.2 v-1.3 M99.96 265.0 v1.3 M101.60 421.2 v-1.3 M101.60 265.0 v1.3 M102.86 421.2 v-1.3 M102.86 265.0 v1.3 M103.89 421.2 v-1.3 M103.89 265.0 v1.3 M104.77 421.2 v-1.3 M104.77 265.0 v1.3 M105.53 421.2 v-1.3 M105.53 265.0 v1.3 M106.19 421.2 v-1.3 M106.19 265.0 v1.3 M106.79 421.2 v-2.6 M106.79 265.0 v2.6 M110.72 421.2 v-1.3 M110.72 265.0 v1.3 M113.02 421.2 v-1.3 M113.02 265.0 v1.3 M114.65 421.2 v-1.3 M114.65 265.0 v1.3 M115.92 421.2 v-1.3 M115.92 265.0 v1.3 M116.95 421.2 v-1.3 M116.95 265.0 v1.3 M117.83 421.2 v-1.3 M117.83 265.0 v1.3 M118.58 421.2 v-1.3 M118.58 265.0 v1.3 M119.25 421.2 v-1.3 M119.25 265.0 v1.3 M119.85 421.2 v-2.6 M119.85 265.0 v2.6 M123.78 421.2 v-1.3 M123.78 265.0 v1.3 M126.08 421.2 v-1.3 M126.08 265.0 v1.3 M127.71 421.2 v-1.3 M127.71 265.0 v1.3 M128.98 421.2 v-1.3 M128.98 265.0 v1.3 M130.01 421.2 v-1.3 M130.01 265.0 v1.3 M130.89 421.2 v-1.3 M130.89 265.0 v1.3 M131.64 421.2 v-1.3 M131.64 265.0 v1.3 M132.31 421.2 v-1.3 M132.31 265.0 v1.3 M132.91 421.2 v-2.6 M132.91 265.0 v2.6 M136.84 421.2 v-1.3 M136.84 265.0 v1.3 M139.14 421.2 v-1.3 M139.14 265.0 v1.3 M140.77 421.2 v-1.3 M140.77 265.0 v1.3 M142.04 421.2 v-1.3 M142.04 265.0 v1.3 M143.07 421.2 v-1.3 M143.07 265.0 v1.3 M143.94 421.2 v-1.3 M143.94 265.0 v1.3 M144.70 421.2 v-1.3 M144.70 265.0 v1.3 M145.37 421.2 v-1.3 M145.37 265.0 v1.3 M145.97 421.2 v-2.6 M145.97 265.0 v2.6 M149.90 421.2 v-1.3 M149.90 265.0 v1.3 M152.20 421.2 v-1.3 M152.20 265.0 v1.3 M153.83 421.2 v-1.3 M153.83 265.0 v1.3 M155.09 421.2 v-1.3 M155.09 265.0 v1.3 M156.13 421.2 v-1.3 M156.13 265.0 v1.3 M157.00 421.2 v-1.3 M157.00 265.0 v1.3 M157.76 421.2 v-1.3 M157.76 265.0 v1.3 M158.43 421.2 v-1.3 M158.43 265.0 v1.3 M159.02 421.2 v-2.6 M159.02 265.0 v2.6 M162.96 421.2 v-1.3 M162.96 265.0 v1.3 M165.26 421.2 v-1.3 M165.26 265.0 v1.3 M166.89 421.2 v-1.3 M166.89 265.0 v1.3 M168.15 421.2 v-1.3 M168.15 265.0 v1.3 M169.19 421.2 v-1.3 M169.19 265.0 v1.3 M170.06 421.2 v-1.3 M170.06 265.0 v1.3 M170.82 421.2 v-1.3 M170.82 265.0 v1.3 M171.49 421.2 v-1.3 M171.49 265.0 v1.3 M172.08 421.2 v-2.6 M172.08 265.0 v2.6 M176.01 421.2 v-1.3 M176.01 265.0 v1.3 M178.31 421.2 v-1.3 M178.31 265.0 v1.3 M179.95 421.2 v-1.3 M179.95 265.0 v1.3 M181.21 421.2 v-1.3 M181.21 265.0 v1.3 M182.24 421.2 v-1.3 M182.24 265.0 v1.3 M183.12 421.2 v-1.3 M183.12 265.0 v1.3 M183.88 421.2 v-1.3 M183.88 265.0 v1.3 M184.54 421.2 v-1.3 M184.54 265.0 v1.3 M185.14 421.2 v-2.6 M185.14 265.0 v2.6 M189.07 421.2 v-1.3 M189.07 265.0 v1.3 M191.37 421.2 v-1.3 M191.37 265.0 v1.3 M193.00 421.2 v-1.3 M193.00 265.0 v1.3 M194.27 421.2 v-1.3 M194.27 265.0 v1.3 M195.30 421.2 v-1.3 M195.30 265.0 v1.3 M196.18 421.2 v-1.3 M196.18 265.0 v1.3 M196.93 421.2 v-1.3 M196.93 265.0 v1.3 M197.60 421.2 v-1.3 M197.60 265.0 v1.3 M198.20 421.2 v-2.6 M198.20 265.0 v2.6" stroke="#000" stroke-width="0.65" fill="none"/>
<path d="M41.5 267.94 h1.6 M41.5 273.42 h1.6 M41.5 278.90 h3 M41.5 284.38 h1.6 M41.5 289.86 h1.6 M41.5 295.34 h1.6 M41.5 300.82 h1.6 M41.5 306.30 h3 M41.5 311.78 h1.6 M41.5 317.26 h1.6 M41.5 322.74 h1.6 M41.5 328.22 h1.6 M41.5 333.70 h3 M41.5 339.18 h1.6 M41.5 344.66 h1.6 M41.5 350.14 h1.6 M41.5 355.62 h1.6 M41.5 361.10 h3 M41.5 366.58 h1.6 M41.5 372.06 h1.6 M41.5 377.54 h1.6 M41.5 383.02 h1.6 M41.5 388.50 h3 M41.5 393.98 h1.6 M41.5 399.46 h1.6 M41.5 404.94 h1.6 M41.5 410.42 h1.6 M41.5 415.90 h3 M198.2 267.94 h-1.6 M198.2 273.42 h-1.6 M198.2 278.90 h-3 M198.2 284.38 h-1.6 M198.2 289.86 h-1.6 M198.2 295.34 h-1.6 M198.2 300.82 h-1.6 M198.2 306.30 h-3 M198.2 311.78 h-1.6 M198.2 317.26 h-1.6 M198.2 322.74 h-1.6 M198.2 328.22 h-1.6 M198.2 333.70 h-3 M198.2 339.18 h-1.6 M198.2 344.66 h-1.6 M198.2 350.14 h-1.6 M198.2 355.62 h-1.6 M198.2 361.10 h-3 M198.2 366.58 h-1.6 M198.2 372.06 h-1.6 M198.2 377.54 h-1.6 M198.2 383.02 h-1.6 M198.2 388.50 h-3 M198.2 393.98 h-1.6 M198.2 399.46 h-1.6 M198.2 404.94 h-1.6 M198.2 410.42 h-1.6 M198.2 415.90 h-3" stroke="#000" stroke-width="0.85" fill="none"/>
<text x="38.70" y="282.65" text-anchor="end" font-size="11.0">1.4</text>
<text x="38.70" y="310.05" text-anchor="end" font-size="11.0">1.3</text>
<text x="38.70" y="337.45" text-anchor="end" font-size="11.0">1.2</text>
<text x="38.70" y="364.85" text-anchor="end" font-size="11.0">1.1</text>
<text x="38.70" y="392.25" text-anchor="end" font-size="11.0">1.0</text>
<text x="38.70" y="419.65" text-anchor="end" font-size="11.0">0.9</text>
<text x="41.20" y="434.80" text-anchor="middle" font-size="11.1">10<tspan font-size="7.7" dy="-4.7">2</tspan></text>
<text x="67.32" y="434.80" text-anchor="middle" font-size="11.1">10<tspan font-size="7.7" dy="-4.7">4</tspan></text>
<text x="93.43" y="434.80" text-anchor="middle" font-size="11.1">10<tspan font-size="7.7" dy="-4.7">6</tspan></text>
<text x="119.55" y="434.80" text-anchor="middle" font-size="11.1">10<tspan font-size="7.7" dy="-4.7">8</tspan></text>
<text x="145.67" y="434.80" text-anchor="middle" font-size="11.1">10<tspan font-size="7.7" dy="-4.7">10</tspan></text>
<text x="171.78" y="434.80" text-anchor="middle" font-size="11.1">10<tspan font-size="7.7" dy="-4.7">12</tspan></text>
<text x="197.90" y="434.80" text-anchor="middle" font-size="11.1">10<tspan font-size="7.7" dy="-4.7">14</tspan></text>
<text x="119.85" y="452.80" text-anchor="middle" font-size="12.7">Λ (GeV)</text>
<g transform="translate(13.06,350.8) rotate(-90)"><g fill="none" stroke="#000" stroke-linecap="round"><path d="M0.3,-4.3 C0.5,-5.2 1.0,-5.9 1.7,-5.9" stroke-width="0.55"/><path d="M1.7,-5.85 C2.6,-5.8 3.15,-4.6 3.4,-3.0" stroke-width="1.1"/><path d="M3.4,-3.0 C3.6,-2 3.75,-1.2 3.75,-0.6 C3.6,0.6 3.3,1.4 2.9,2.0" stroke-width="0.8"/><path d="M3.15,1.5 L2.4,2.7" stroke-width="1.3"/><path d="M6.3,-5.6 C5.6,-4 4.6,-2 3.75,-0.6" stroke-width="0.75"/></g><text x="4.7" y="4.0" font-size="9.3" font-style="italic">ν</text></g></g>
<g transform="translate(0,0.25)"><polyline points="250.30,388.50 252.28,387.60 254.26,386.70 256.24,385.79 258.21,384.88 260.19,383.97 262.17,383.05 264.15,382.13 266.13,381.20 268.11,380.26 270.08,379.33 272.06,378.38 274.04,377.44 276.02,376.48 278.00,375.52 279.98,374.56 281.96,373.59 283.93,372.62 285.91,371.64 287.89,370.66 289.87,369.67 291.85,368.67 293.83,367.67 295.81,366.67 297.78,365.66 299.76,364.64 301.74,363.62 303.72,362.59 305.70,361.55 307.68,360.51 309.65,359.46 311.63,358.41 313.61,357.35 315.59,356.28 317.57,355.21 319.55,354.13 321.53,353.05 323.50,351.95 325.48,350.86 327.46,349.75 329.44,348.64 331.42,347.52 333.40,346.39 335.37,345.26 337.35,344.12 339.33,342.97 341.31,341.82 343.29,340.66 345.27,339.49 347.25,338.31 349.22,337.13 351.20,335.93 353.18,334.74 355.16,333.53 357.14,332.31 359.12,331.09 361.09,329.86 363.07,328.62 365.05,327.37 367.03,326.12 369.01,324.86 370.99,323.58 372.97,322.31 374.94,321.02 376.92,319.72 378.90,318.41 380.88,317.10 382.86,315.78 384.84,314.45 386.82,313.11 388.79,311.76 390.77,310.40 392.75,309.03 394.73,307.66 396.71,306.27 398.69,304.87 400.66,303.47 402.64,302.06 404.62,300.63 406.60,299.20" fill="none" stroke="#0000ff" stroke-width="1.85" stroke-dasharray="3.85 1.2"/>
<polyline points="250.30,388.50 252.28,387.56 254.26,386.61 256.24,385.66 258.21,384.71 260.19,383.75 262.17,382.79 264.15,381.83 266.13,380.86 268.11,379.88 270.08,378.90 272.06,377.92 274.04,376.93 276.02,375.94 278.00,374.95 279.98,373.95 281.96,372.94 283.93,371.93 285.91,370.91 287.89,369.89 289.87,368.86 291.85,367.83 293.83,366.79 295.81,365.75 297.78,364.70 299.76,363.65 301.74,362.59 303.72,361.52 305.70,360.45 307.68,359.37 309.65,358.29 311.63,357.20 313.61,356.10 315.59,355.00 317.57,353.89 319.55,352.78 321.53,351.66 323.50,350.53 325.48,349.40 327.46,348.26 329.44,347.11 331.42,345.95 333.40,344.79 335.37,343.63 337.35,342.45 339.33,341.27 341.31,340.09 343.29,338.89 345.27,337.69 347.25,336.48 349.22,335.27 351.20,334.05 353.18,332.82 355.16,331.59 357.14,330.34 359.12,329.09 361.09,327.84 363.07,326.57 365.05,325.30 367.03,324.03 369.01,322.74 370.99,321.45 372.97,320.15 374.94,318.85 376.92,317.53 378.90,316.21 380.88,314.89 382.86,313.55 384.84,312.21 386.82,310.86 388.79,309.51 390.77,308.15 392.75,306.78 394.73,305.40 396.71,304.02 398.69,302.63 400.66,301.23 402.64,299.83 404.62,298.42 406.60,297.00" fill="none" stroke="#ff0000" stroke-width="1.6"/>
<polyline points="250.30,388.50 252.28,389.39 254.26,390.24 256.24,391.06 258.21,391.85 260.19,392.60 262.17,393.32 264.15,394.00 266.13,394.66 268.11,395.29 270.08,395.88 272.06,396.45 274.04,396.99 276.02,397.51 278.00,398.00 279.98,398.46 281.96,398.90 283.93,399.32 285.91,399.71 287.89,400.08 289.87,400.43 291.85,400.76 293.83,401.07 295.81,401.36 297.78,401.64 299.76,401.89 301.74,402.13 303.72,402.35 305.70,402.56 307.68,402.75 309.65,402.92 311.63,403.09 313.61,403.23 315.59,403.37 317.57,403.49 319.55,403.60 321.53,403.70 323.50,403.79 325.48,403.86 327.46,403.93 329.44,403.99 331.42,404.04 333.40,404.08 335.37,404.11 337.35,404.13 339.33,404.15 341.31,404.15 343.29,404.16 345.27,404.15 347.25,404.14 349.22,404.12 351.20,404.10 353.18,404.07 355.16,404.04 357.14,404.00 359.12,403.95 361.09,403.91 363.07,403.85 365.05,403.80 367.03,403.74 369.01,403.68 370.99,403.61 372.97,403.54 374.94,403.47 376.92,403.39 378.90,403.31 380.88,403.23 382.86,403.14 384.84,403.05 386.82,402.96 388.79,402.87 390.77,402.77 392.75,402.67 394.73,402.57 396.71,402.47 398.69,402.36 400.66,402.25 402.64,402.14 404.62,402.02 406.60,401.90" fill="none" stroke="#00ff00" stroke-width="1.6"/>
<rect x="250.3" y="265.0" width="156.30" height="156.20" fill="none" stroke="#000" stroke-width="0.72"/>
<path d="M250.30 421.2 v-2.6 M250.30 265.0 v2.6 M254.22 421.2 v-1.3 M254.22 265.0 v1.3 M256.51 421.2 v-1.3 M256.51 265.0 v1.3 M258.14 421.2 v-1.3 M258.14 265.0 v1.3 M259.40 421.2 v-1.3 M259.40 265.0 v1.3 M260.44 421.2 v-1.3 M260.44 265.0 v1.3 M261.31 421.2 v-1.3 M261.31 265.0 v1.3 M262.06 421.2 v-1.3 M262.06 265.0 v1.3 M262.73 421.2 v-1.3 M262.73 265.0 v1.3 M263.32 421.2 v-2.6 M263.32 265.0 v2.6 M267.25 421.2 v-1.3 M267.25 265.0 v1.3 M269.54 421.2 v-1.3 M269.54 265.0 v1.3 M271.17 421.2 v-1.3 M271.17 265.0 v1.3 M272.43 421.2 v-1.3 M272.43 265.0 v1.3 M273.46 421.2 v-1.3 M273.46 265.0 v1.3 M274.33 421.2 v-1.3 M274.33 265.0 v1.3 M275.09 421.2 v-1.3 M275.09 265.0 v1.3 M275.75 421.2 v-1.3 M275.75 265.0 v1.3 M276.35 421.2 v-2.6 M276.35 265.0 v2.6 M280.27 421.2 v-1.3 M280.27 265.0 v1.3 M282.56 421.2 v-1.3 M282.56 265.0 v1.3 M284.19 421.2 v-1.3 M284.19 265.0 v1.3 M285.45 421.2 v-1.3 M285.45 265.0 v1.3 M286.49 421.2 v-1.3 M286.49 265.0 v1.3 M287.36 421.2 v-1.3 M287.36 265.0 v1.3 M288.11 421.2 v-1.3 M288.11 265.0 v1.3 M288.78 421.2 v-1.3 M288.78 265.0 v1.3 M289.38 421.2 v-2.6 M289.38 265.0 v2.6 M293.30 421.2 v-1.3 M293.30 265.0 v1.3 M295.59 421.2 v-1.3 M295.59 265.0 v1.3 M297.22 421.2 v-1.3 M297.22 265.0 v1.3 M298.48 421.2 v-1.3 M298.48 265.0 v1.3 M299.51 421.2 v-1.3 M299.51 265.0 v1.3 M300.38 421.2 v-1.3 M300.38 265.0 v1.3 M301.14 421.2 v-1.3 M301.14 265.0 v1.3 M301.80 421.2 v-1.3 M301.80 265.0 v1.3 M302.40 421.2 v-2.6 M302.40 265.0 v2.6 M306.32 421.2 v-1.3 M306.32 265.0 v1.3 M308.61 421.2 v-1.3 M308.61 265.0 v1.3 M310.24 421.2 v-1.3 M310.24 265.0 v1.3 M311.50 421.2 v-1.3 M311.50 265.0 v1.3 M312.54 421.2 v-1.3 M312.54 265.0 v1.3 M313.41 421.2 v-1.3 M313.41 265.0 v1.3 M314.16 421.2 v-1.3 M314.16 265.0 v1.3 M314.83 421.2 v-1.3 M314.83 265.0 v1.3 M315.43 421.2 v-2.6 M315.43 265.0 v2.6 M319.35 421.2 v-1.3 M319.35 265.0 v1.3 M321.64 421.2 v-1.3 M321.64 265.0 v1.3 M323.27 421.2 v-1.3 M323.27 265.0 v1.3 M324.53 421.2 v-1.3 M324.53 265.0 v1.3 M325.56 421.2 v-1.3 M325.56 265.0 v1.3 M326.43 421.2 v-1.3 M326.43 265.0 v1.3 M327.19 421.2 v-1.3 M327.19 265.0 v1.3 M327.85 421.2 v-1.3 M327.85 265.0 v1.3 M328.45 421.2 v-2.6 M328.45 265.0 v2.6 M332.37 421.2 v-1.3 M332.37 265.0 v1.3 M334.66 421.2 v-1.3 M334.66 265.0 v1.3 M336.29 421.2 v-1.3 M336.29 265.0 v1.3 M337.55 421.2 v-1.3 M337.55 265.0 v1.3 M338.59 421.2 v-1.3 M338.59 265.0 v1.3 M339.46 421.2 v-1.3 M339.46 265.0 v1.3 M340.21 421.2 v-1.3 M340.21 265.0 v1.3 M340.88 421.2 v-1.3 M340.88 265.0 v1.3 M341.48 421.2 v-2.6 M341.48 265.0 v2.6 M345.40 421.2 v-1.3 M345.40 265.0 v1.3 M347.69 421.2 v-1.3 M347.69 265.0 v1.3 M349.32 421.2 v-1.3 M349.32 265.0 v1.3 M350.58 421.2 v-1.3 M350.58 265.0 v1.3 M351.61 421.2 v-1.3 M351.61 265.0 v1.3 M352.48 421.2 v-1.3 M352.48 265.0 v1.3 M353.24 421.2 v-1.3 M353.24 265.0 v1.3 M353.90 421.2 v-1.3 M353.90 265.0 v1.3 M354.50 421.2 v-2.6 M354.50 265.0 v2.6 M358.42 421.2 v-1.3 M358.42 265.0 v1.3 M360.71 421.2 v-1.3 M360.71 265.0 v1.3 M362.34 421.2 v-1.3 M362.34 265.0 v1.3 M363.60 421.2 v-1.3 M363.60 265.0 v1.3 M364.64 421.2 v-1.3 M364.64 265.0 v1.3 M365.51 421.2 v-1.3 M365.51 265.0 v1.3 M366.26 421.2 v-1.3 M366.26 265.0 v1.3 M366.93 421.2 v-1.3 M366.93 265.0 v1.3 M367.53 421.2 v-2.6 M367.53 265.0 v2.6 M371.45 421.2 v-1.3 M371.45 265.0 v1.3 M373.74 421.2 v-1.3 M373.74 265.0 v1.3 M375.37 421.2 v-1.3 M375.37 265.0 v1.3 M376.63 421.2 v-1.3 M376.63 265.0 v1.3 M377.66 421.2 v-1.3 M377.66 265.0 v1.3 M378.53 421.2 v-1.3 M378.53 265.0 v1.3 M379.29 421.2 v-1.3 M379.29 265.0 v1.3 M379.95 421.2 v-1.3 M379.95 265.0 v1.3 M380.55 421.2 v-2.6 M380.55 265.0 v2.6 M384.47 421.2 v-1.3 M384.47 265.0 v1.3 M386.76 421.2 v-1.3 M386.76 265.0 v1.3 M388.39 421.2 v-1.3 M388.39 265.0 v1.3 M389.65 421.2 v-1.3 M389.65 265.0 v1.3 M390.69 421.2 v-1.3 M390.69 265.0 v1.3 M391.56 421.2 v-1.3 M391.56 265.0 v1.3 M392.31 421.2 v-1.3 M392.31 265.0 v1.3 M392.98 421.2 v-1.3 M392.98 265.0 v1.3 M393.58 421.2 v-2.6 M393.58 265.0 v2.6 M397.50 421.2 v-1.3 M397.50 265.0 v1.3 M399.79 421.2 v-1.3 M399.79 265.0 v1.3 M401.42 421.2 v-1.3 M401.42 265.0 v1.3 M402.68 421.2 v-1.3 M402.68 265.0 v1.3 M403.71 421.2 v-1.3 M403.71 265.0 v1.3 M404.58 421.2 v-1.3 M404.58 265.0 v1.3 M405.34 421.2 v-1.3 M405.34 265.0 v1.3 M406.00 421.2 v-1.3 M406.00 265.0 v1.3 M406.60 421.2 v-2.6 M406.60 265.0 v2.6" stroke="#000" stroke-width="0.65" fill="none"/>
<path d="M250.3 267.94 h1.6 M250.3 273.42 h1.6 M250.3 278.90 h3 M250.3 284.38 h1.6 M250.3 289.86 h1.6 M250.3 295.34 h1.6 M250.3 300.82 h1.6 M250.3 306.30 h3 M250.3 311.78 h1.6 M250.3 317.26 h1.6 M250.3 322.74 h1.6 M250.3 328.22 h1.6 M250.3 333.70 h3 M250.3 339.18 h1.6 M250.3 344.66 h1.6 M250.3 350.14 h1.6 M250.3 355.62 h1.6 M250.3 361.10 h3 M250.3 366.58 h1.6 M250.3 372.06 h1.6 M250.3 377.54 h1.6 M250.3 383.02 h1.6 M250.3 388.50 h3 M250.3 393.98 h1.6 M250.3 399.46 h1.6 M250.3 404.94 h1.6 M250.3 410.42 h1.6 M250.3 415.90 h3 M406.6 267.94 h-1.6 M406.6 273.42 h-1.6 M406.6 278.90 h-3 M406.6 284.38 h-1.6 M406.6 289.86 h-1.6 M406.6 295.34 h-1.6 M406.6 300.82 h-1.6 M406.6 306.30 h-3 M406.6 311.78 h-1.6 M406.6 317.26 h-1.6 M406.6 322.74 h-1.6 M406.6 328.22 h-1.6 M406.6 333.70 h-3 M406.6 339.18 h-1.6 M406.6 344.66 h-1.6 M406.6 350.14 h-1.6 M406.6 355.62 h-1.6 M406.6 361.10 h-3 M406.6 366.58 h-1.6 M406.6 372.06 h-1.6 M406.6 377.54 h-1.6 M406.6 383.02 h-1.6 M406.6 388.50 h-3 M406.6 393.98 h-1.6 M406.6 399.46 h-1.6 M406.6 404.94 h-1.6 M406.6 410.42 h-1.6 M406.6 415.90 h-3" stroke="#000" stroke-width="0.85" fill="none"/>
<text x="247.50" y="282.65" text-anchor="end" font-size="11.0">1.4</text>
<text x="247.50" y="310.05" text-anchor="end" font-size="11.0">1.3</text>
<text x="247.50" y="337.45" text-anchor="end" font-size="11.0">1.2</text>
<text x="247.50" y="364.85" text-anchor="end" font-size="11.0">1.1</text>
<text x="247.50" y="392.25" text-anchor="end" font-size="11.0">1.0</text>
<text x="247.50" y="419.65" text-anchor="end" font-size="11.0">0.9</text>
<text x="250.00" y="434.80" text-anchor="middle" font-size="11.1">10<tspan font-size="7.7" dy="-4.7">2</tspan></text>
<text x="276.05" y="434.80" text-anchor="middle" font-size="11.1">10<tspan font-size="7.7" dy="-4.7">4</tspan></text>
<text x="302.10" y="434.80" text-anchor="middle" font-size="11.1">10<tspan font-size="7.7" dy="-4.7">6</tspan></text>
<text x="328.15" y="434.80" text-anchor="middle" font-size="11.1">10<tspan font-size="7.7" dy="-4.7">8</tspan></text>
<text x="354.20" y="434.80" text-anchor="middle" font-size="11.1">10<tspan font-size="7.7" dy="-4.7">10</tspan></text>
<text x="380.25" y="434.80" text-anchor="middle" font-size="11.1">10<tspan font-size="7.7" dy="-4.7">12</tspan></text>
<text x="406.30" y="434.80" text-anchor="middle" font-size="11.1">10<tspan font-size="7.7" dy="-4.7">14</tspan></text>
<text x="328.45" y="452.80" text-anchor="middle" font-size="12.7">Λ (GeV)</text>
<g transform="translate(221.8,350.8) rotate(-90)"><g fill="none" stroke="#000" stroke-linecap="round"><path d="M0.3,-4.3 C0.5,-5.2 1.0,-5.9 1.7,-5.9" stroke-width="0.55"/><path d="M1.7,-5.85 C2.6,-5.8 3.15,-4.6 3.4,-3.0" stroke-width="1.1"/><path d="M3.4,-3.0 C3.6,-2 3.75,-1.2 3.75,-0.6 C3.6,0.6 3.3,1.4 2.9,2.0" stroke-width="0.8"/><path d="M3.15,1.5 L2.4,2.7" stroke-width="1.3"/><path d="M6.3,-5.6 C5.6,-4 4.6,-2 3.75,-0.6" stroke-width="0.75"/></g><text x="5.5" y="5.7" font-size="9.3" font-style="italic">l</text></g></g>
<g transform="translate(0,0.25)"><polyline points="458.50,274.40 460.47,276.50 462.45,278.58 464.42,280.64 466.40,282.67 468.37,284.69 470.35,286.69 472.32,288.68 474.30,290.64 476.27,292.59 478.25,294.52 480.22,296.43 482.20,298.33 484.17,300.22 486.15,302.09 488.12,303.94 490.09,305.79 492.07,307.61 494.04,309.43 496.02,311.23 497.99,313.02 499.97,314.80 501.94,316.57 503.92,318.32 505.89,320.06 507.87,321.80 509.84,323.52 511.82,325.23 513.79,326.93 515.77,328.63 517.74,330.31 519.72,331.98 521.69,333.64 523.66,335.30 525.64,336.94 527.61,338.58 529.59,340.21 531.56,341.82 533.54,343.43 535.51,345.04 537.49,346.63 539.46,348.21 541.44,349.79 543.41,351.36 545.39,352.91 547.36,354.46 549.34,356.01 551.31,357.54 553.28,359.06 555.26,360.58 557.23,362.09 559.21,363.58 561.18,365.07 563.16,366.55 565.13,368.02 567.11,369.48 569.08,370.93 571.06,372.37 573.03,373.80 575.01,375.22 576.98,376.63 578.96,378.02 580.93,379.41 582.91,380.79 584.88,382.15 586.85,383.50 588.83,384.84 590.80,386.16 592.78,387.47 594.75,388.77 596.73,390.06 598.70,391.32 600.68,392.58 602.65,393.82 604.63,395.04 606.60,396.25 608.58,397.44 610.55,398.61 612.53,399.76 614.50,400.90" fill="none" stroke="#0000ff" stroke-width="1.85" stroke-dasharray="3.85 1.2"/>
<polyline points="458.50,274.40 460.47,274.56 462.45,274.72 464.42,274.88 466.40,275.04 468.37,275.20 470.35,275.37 472.32,275.53 474.30,275.70 476.27,275.87 478.25,276.04 480.22,276.21 482.20,276.38 484.17,276.56 486.15,276.73 488.12,276.90 490.09,277.08 492.07,277.25 494.04,277.43 496.02,277.61 497.99,277.78 499.97,277.96 501.94,278.14 503.92,278.32 505.89,278.50 507.87,278.67 509.84,278.85 511.82,279.03 513.79,279.21 515.77,279.39 517.74,279.56 519.72,279.74 521.69,279.92 523.66,280.10 525.64,280.27 527.61,280.45 529.59,280.62 531.56,280.80 533.54,280.97 535.51,281.14 537.49,281.31 539.46,281.48 541.44,281.65 543.41,281.82 545.39,281.98 547.36,282.15 549.34,282.31 551.31,282.48 553.28,282.64 555.26,282.80 557.23,282.95 559.21,283.11 561.18,283.26 563.16,283.42 565.13,283.57 567.11,283.72 569.08,283.86 571.06,284.01 573.03,284.15 575.01,284.29 576.98,284.43 578.96,284.56 580.93,284.69 582.91,284.82 584.88,284.95 586.85,285.07 588.83,285.20 590.80,285.32 592.78,285.43 594.75,285.55 596.73,285.66 598.70,285.76 600.68,285.87 602.65,285.97 604.63,286.06 606.60,286.16 608.58,286.25 610.55,286.34 612.53,286.42 614.50,286.50" fill="none" stroke="#ff0000" stroke-width="1.6"/>
<polyline points="458.50,274.40 460.47,274.44 462.45,274.48 464.42,274.52 466.40,274.56 468.37,274.60 470.35,274.64 472.32,274.67 474.30,274.70 476.27,274.74 478.25,274.77 480.22,274.80 482.20,274.82 484.17,274.85 486.15,274.88 488.12,274.90 490.09,274.93 492.07,274.95 494.04,274.97 496.02,274.99 497.99,275.01 499.97,275.03 501.94,275.05 503.92,275.07 505.89,275.08 507.87,275.10 509.84,275.11 511.82,275.13 513.79,275.14 515.77,275.16 517.74,275.17 519.72,275.18 521.69,275.20 523.66,275.21 525.64,275.22 527.61,275.23 529.59,275.24 531.56,275.25 533.54,275.26 535.51,275.28 537.49,275.29 539.46,275.30 541.44,275.31 543.41,275.32 545.39,275.33 547.36,275.34 549.34,275.35 551.31,275.36 553.28,275.37 555.26,275.38 557.23,275.39 559.21,275.40 561.18,275.42 563.16,275.43 565.13,275.44 567.11,275.45 569.08,275.47 571.06,275.48 573.03,275.50 575.01,275.51 576.98,275.53 578.96,275.54 580.93,275.56 582.91,275.58 584.88,275.60 586.85,275.62 588.83,275.64 590.80,275.66 592.78,275.68 594.75,275.71 596.73,275.73 598.70,275.75 600.68,275.78 602.65,275.81 604.63,275.84 606.60,275.87 608.58,275.90 610.55,275.93 612.53,275.96 614.50,276.00" fill="none" stroke="#00ff00" stroke-width="1.6"/>
<rect x="458.5" y="265.0" width="156.00" height="156.20" fill="none" stroke="#000" stroke-width="0.72"/>
<path d="M458.50 421.2 v-2.6 M458.50 265.0 v2.6 M462.41 421.2 v-1.3 M462.41 265.0 v1.3 M464.70 421.2 v-1.3 M464.70 265.0 v1.3 M466.33 421.2 v-1.3 M466.33 265.0 v1.3 M467.59 421.2 v-1.3 M467.59 265.0 v1.3 M468.62 421.2 v-1.3 M468.62 265.0 v1.3 M469.49 421.2 v-1.3 M469.49 265.0 v1.3 M470.24 421.2 v-1.3 M470.24 265.0 v1.3 M470.91 421.2 v-1.3 M470.91 265.0 v1.3 M471.50 421.2 v-2.6 M471.50 265.0 v2.6 M475.41 421.2 v-1.3 M475.41 265.0 v1.3 M477.70 421.2 v-1.3 M477.70 265.0 v1.3 M479.33 421.2 v-1.3 M479.33 265.0 v1.3 M480.59 421.2 v-1.3 M480.59 265.0 v1.3 M481.62 421.2 v-1.3 M481.62 265.0 v1.3 M482.49 421.2 v-1.3 M482.49 265.0 v1.3 M483.24 421.2 v-1.3 M483.24 265.0 v1.3 M483.91 421.2 v-1.3 M483.91 265.0 v1.3 M484.50 421.2 v-2.6 M484.50 265.0 v2.6 M488.41 421.2 v-1.3 M488.41 265.0 v1.3 M490.70 421.2 v-1.3 M490.70 265.0 v1.3 M492.33 421.2 v-1.3 M492.33 265.0 v1.3 M493.59 421.2 v-1.3 M493.59 265.0 v1.3 M494.62 421.2 v-1.3 M494.62 265.0 v1.3 M495.49 421.2 v-1.3 M495.49 265.0 v1.3 M496.24 421.2 v-1.3 M496.24 265.0 v1.3 M496.91 421.2 v-1.3 M496.91 265.0 v1.3 M497.50 421.2 v-2.6 M497.50 265.0 v2.6 M501.41 421.2 v-1.3 M501.41 265.0 v1.3 M503.70 421.2 v-1.3 M503.70 265.0 v1.3 M505.33 421.2 v-1.3 M505.33 265.0 v1.3 M506.59 421.2 v-1.3 M506.59 265.0 v1.3 M507.62 421.2 v-1.3 M507.62 265.0 v1.3 M508.49 421.2 v-1.3 M508.49 265.0 v1.3 M509.24 421.2 v-1.3 M509.24 265.0 v1.3 M509.91 421.2 v-1.3 M509.91 265.0 v1.3 M510.50 421.2 v-2.6 M510.50 265.0 v2.6 M514.41 421.2 v-1.3 M514.41 265.0 v1.3 M516.70 421.2 v-1.3 M516.70 265.0 v1.3 M518.33 421.2 v-1.3 M518.33 265.0 v1.3 M519.59 421.2 v-1.3 M519.59 265.0 v1.3 M520.62 421.2 v-1.3 M520.62 265.0 v1.3 M521.49 421.2 v-1.3 M521.49 265.0 v1.3 M522.24 421.2 v-1.3 M522.24 265.0 v1.3 M522.91 421.2 v-1.3 M522.91 265.0 v1.3 M523.50 421.2 v-2.6 M523.50 265.0 v2.6 M527.41 421.2 v-1.3 M527.41 265.0 v1.3 M529.70 421.2 v-1.3 M529.70 265.0 v1.3 M531.33 421.2 v-1.3 M531.33 265.0 v1.3 M532.59 421.2 v-1.3 M532.59 265.0 v1.3 M533.62 421.2 v-1.3 M533.62 265.0 v1.3 M534.49 421.2 v-1.3 M534.49 265.0 v1.3 M535.24 421.2 v-1.3 M535.24 265.0 v1.3 M535.91 421.2 v-1.3 M535.91 265.0 v1.3 M536.50 421.2 v-2.6 M536.50 265.0 v2.6 M540.41 421.2 v-1.3 M540.41 265.0 v1.3 M542.70 421.2 v-1.3 M542.70 265.0 v1.3 M544.33 421.2 v-1.3 M544.33 265.0 v1.3 M545.59 421.2 v-1.3 M545.59 265.0 v1.3 M546.62 421.2 v-1.3 M546.62 265.0 v1.3 M547.49 421.2 v-1.3 M547.49 265.0 v1.3 M548.24 421.2 v-1.3 M548.24 265.0 v1.3 M548.91 421.2 v-1.3 M548.91 265.0 v1.3 M549.50 421.2 v-2.6 M549.50 265.0 v2.6 M553.41 421.2 v-1.3 M553.41 265.0 v1.3 M555.70 421.2 v-1.3 M555.70 265.0 v1.3 M557.33 421.2 v-1.3 M557.33 265.0 v1.3 M558.59 421.2 v-1.3 M558.59 265.0 v1.3 M559.62 421.2 v-1.3 M559.62 265.0 v1.3 M560.49 421.2 v-1.3 M560.49 265.0 v1.3 M561.24 421.2 v-1.3 M561.24 265.0 v1.3 M561.91 421.2 v-1.3 M561.91 265.0 v1.3 M562.50 421.2 v-2.6 M562.50 265.0 v2.6 M566.41 421.2 v-1.3 M566.41 265.0 v1.3 M568.70 421.2 v-1.3 M568.70 265.0 v1.3 M570.33 421.2 v-1.3 M570.33 265.0 v1.3 M571.59 421.2 v-1.3 M571.59 265.0 v1.3 M572.62 421.2 v-1.3 M572.62 265.0 v1.3 M573.49 421.2 v-1.3 M573.49 265.0 v1.3 M574.24 421.2 v-1.3 M574.24 265.0 v1.3 M574.91 421.2 v-1.3 M574.91 265.0 v1.3 M575.50 421.2 v-2.6 M575.50 265.0 v2.6 M579.41 421.2 v-1.3 M579.41 265.0 v1.3 M581.70 421.2 v-1.3 M581.70 265.0 v1.3 M583.33 421.2 v-1.3 M583.33 265.0 v1.3 M584.59 421.2 v-1.3 M584.59 265.0 v1.3 M585.62 421.2 v-1.3 M585.62 265.0 v1.3 M586.49 421.2 v-1.3 M586.49 265.0 v1.3 M587.24 421.2 v-1.3 M587.24 265.0 v1.3 M587.91 421.2 v-1.3 M587.91 265.0 v1.3 M588.50 421.2 v-2.6 M588.50 265.0 v2.6 M592.41 421.2 v-1.3 M592.41 265.0 v1.3 M594.70 421.2 v-1.3 M594.70 265.0 v1.3 M596.33 421.2 v-1.3 M596.33 265.0 v1.3 M597.59 421.2 v-1.3 M597.59 265.0 v1.3 M598.62 421.2 v-1.3 M598.62 265.0 v1.3 M599.49 421.2 v-1.3 M599.49 265.0 v1.3 M600.24 421.2 v-1.3 M600.24 265.0 v1.3 M600.91 421.2 v-1.3 M600.91 265.0 v1.3 M601.50 421.2 v-2.6 M601.50 265.0 v2.6 M605.41 421.2 v-1.3 M605.41 265.0 v1.3 M607.70 421.2 v-1.3 M607.70 265.0 v1.3 M609.33 421.2 v-1.3 M609.33 265.0 v1.3 M610.59 421.2 v-1.3 M610.59 265.0 v1.3 M611.62 421.2 v-1.3 M611.62 265.0 v1.3 M612.49 421.2 v-1.3 M612.49 265.0 v1.3 M613.24 421.2 v-1.3 M613.24 265.0 v1.3 M613.91 421.2 v-1.3 M613.91 265.0 v1.3 M614.50 421.2 v-2.6 M614.50 265.0 v2.6" stroke="#000" stroke-width="0.65" fill="none"/>
<path d="M458.5 274.40 h3 M458.5 283.56 h1.6 M458.5 292.72 h1.6 M458.5 301.88 h1.6 M458.5 311.04 h1.6 M458.5 320.20 h3 M458.5 329.36 h1.6 M458.5 338.52 h1.6 M458.5 347.68 h1.6 M458.5 356.84 h1.6 M458.5 366.00 h3 M458.5 375.16 h1.6 M458.5 384.32 h1.6 M458.5 393.48 h1.6 M458.5 402.64 h1.6 M458.5 411.80 h3 M614.5 274.40 h-1.6 M614.5 283.56 h-3 M614.5 292.72 h-1.6 M614.5 301.88 h-1.6 M614.5 311.04 h-1.6 M614.5 320.20 h-1.6 M614.5 329.36 h-3 M614.5 338.52 h-1.6 M614.5 347.68 h-1.6 M614.5 356.84 h-1.6 M614.5 366.00 h-1.6 M614.5 375.16 h-3 M614.5 384.32 h-1.6 M614.5 393.48 h-1.6 M614.5 402.64 h-1.6 M614.5 411.80 h-1.6" stroke="#000" stroke-width="0.85" fill="none"/>
<text x="455.70" y="278.15" text-anchor="end" font-size="11.0">1.0000</text>
<text x="455.70" y="324.05" text-anchor="end" font-size="11.0">0.9995</text>
<text x="455.70" y="369.85" text-anchor="end" font-size="11.0">0.9990</text>
<text x="455.70" y="415.65" text-anchor="end" font-size="11.0">0.9985</text>
<text x="458.20" y="434.80" text-anchor="middle" font-size="11.1">10<tspan font-size="7.7" dy="-4.7">2</tspan></text>
<text x="484.20" y="434.80" text-anchor="middle" font-size="11.1">10<tspan font-size="7.7" dy="-4.7">4</tspan></text>
<text x="510.20" y="434.80" text-anchor="middle" font-size="11.1">10<tspan font-size="7.7" dy="-4.7">6</tspan></text>
<text x="536.20" y="434.80" text-anchor="middle" font-size="11.1">10<tspan font-size="7.7" dy="-4.7">8</tspan></text>
<text x="562.20" y="434.80" text-anchor="middle" font-size="11.1">10<tspan font-size="7.7" dy="-4.7">10</tspan></text>
<text x="588.20" y="434.80" text-anchor="middle" font-size="11.1">10<tspan font-size="7.7" dy="-4.7">12</tspan></text>
<text x="614.20" y="434.80" text-anchor="middle" font-size="11.1">10<tspan font-size="7.7" dy="-4.7">14</tspan></text>
<text x="536.50" y="452.80" text-anchor="middle" font-size="12.7">Λ (GeV)</text>
<g transform="translate(427.7,352.7) rotate(-90)"><text transform="scale(1.2,1)" font-size="13.2" font-style="italic">ξ</text><text x="6.2" y="1.3" font-size="9.3" font-style="italic">τ</text></g></g>
<rect x="143.5" y="5.3" width="338.3" height="25.9" fill="#fff" stroke="#000" stroke-width="0.9"/>
<line x1="150.2" y1="18.8" x2="177.8" y2="18.8" stroke="#00ff00" stroke-width="1.4"/>
<line x1="219.4" y1="18.8" x2="247.2" y2="18.8" stroke="#ff0000" stroke-width="1.4"/>
<line x1="352.2" y1="18.8" x2="379.2" y2="18.8" stroke="#0000ff" stroke-width="1.5" stroke-dasharray="4.2 1.5"/>
<text x="183.8" y="22.8" font-size="12.9">SM</text>
<text x="252.6" y="22.8" font-size="12.9">MSSM, tan <tspan font-style="italic">β</tspan>=3</text>
<text x="385.6" y="22.8" font-size="12.9">MSSM, tan <tspan font-style="italic">β</tspan>=10</text>
</svg>
</div>
</body></html>
